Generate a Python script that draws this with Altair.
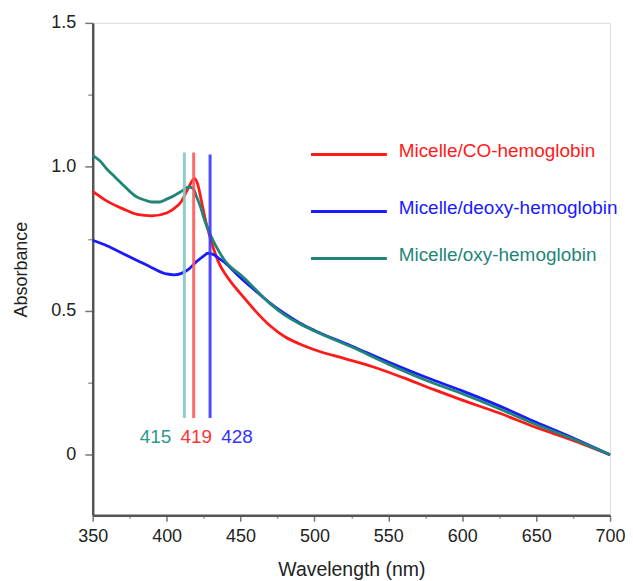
import altair as alt
import pandas as pd

# Wavelength grid (nm) and absorbance readings per series
wl_co = [350, 360, 370, 380, 390, 400, 405, 410, 415, 419, 421, 424, 427, 430, 435, 440, 445, 450,
         460, 470, 480, 490, 500, 520, 540, 560, 580, 600, 625, 650, 675, 700]
abs_co = [0.915, 0.88, 0.855, 0.835, 0.83, 0.84, 0.855, 0.88, 0.93, 0.96, 0.94, 0.87, 0.80, 0.745,
          0.67, 0.625, 0.59, 0.56, 0.50, 0.448, 0.41, 0.385, 0.365, 0.335, 0.305, 0.268, 0.228,
          0.19, 0.145, 0.095, 0.05, 0.0]

wl_deoxy = [350, 360, 370, 380, 390, 400, 405, 410, 415, 420, 425, 428, 432, 436, 440, 445, 450,
            460, 470, 480, 490, 500, 525, 550, 575, 600, 625, 650, 675, 700]
abs_deoxy = [0.745, 0.725, 0.70, 0.675, 0.65, 0.628, 0.625, 0.63, 0.645, 0.67, 0.69, 0.70, 0.695,
             0.68, 0.665, 0.64, 0.615, 0.57, 0.527, 0.49, 0.458, 0.432, 0.378, 0.322, 0.27, 0.222,
             0.17, 0.113, 0.058, 0.0]

wl_oxy = [350, 355, 360, 365, 370, 375, 380, 385, 390, 395, 400, 405, 410, 415, 418, 420, 423, 426,
          430, 435, 440, 445, 450, 460, 470, 480, 490, 500, 525, 550, 575, 600, 625, 650, 675, 700]
abs_oxy = [1.04, 1.02, 0.99, 0.965, 0.94, 0.915, 0.895, 0.885, 0.878, 0.878, 0.888, 0.90, 0.915,
           0.93, 0.925, 0.90, 0.86, 0.81, 0.76, 0.71, 0.67, 0.645, 0.625, 0.575, 0.525, 0.485,
           0.455, 0.43, 0.375, 0.315, 0.26, 0.212, 0.16, 0.105, 0.055, 0.0]

series_names = ["Micelle/CO-hemoglobin", "Micelle/deoxy-hemoglobin", "Micelle/oxy-hemoglobin"]
series_colors = ["#ff1a1a", "#1a1aff", "#1f8577"]

# Soret peak markers
peak_labels = ["415", "419", "428"]
peak_pos = [412.0, 418.3, 429.4]
peak_colors = ["#86c7be", "#ff5a5a", "#3a3aff"]
peak_text_colors = ["#2a9a8a", "#ff3333", "#3333ff"]
peak_top = [1.05, 1.05, 1.043]
peak_bottom = [0.128, 0.128, 0.128]
peak_label_x = [392.5, 420.1, 447.6]
peak_label_y = 0.062

# Legend placement (data coords)
legend_x0, legend_x1, legend_tx = 497.7, 549.0, 557.0
legend_y = [1.043, 0.845, 0.682]

x_ticks = [350, 400, 450, 500, 550, 600, 650, 700]
x_minor = [375, 425, 475, 525, 575, 625, 675]
y_ticks = [0, 0.5, 1.0, 1.5]
y_minor = [0.25, 0.75, 1.25]

rows = []
for name, wls, vals in [(series_names[0], wl_co, abs_co),
                        (series_names[1], wl_deoxy, abs_deoxy),
                        (series_names[2], wl_oxy, abs_oxy)]:
    for w, v in zip(wls, vals):
        rows.append({"series": name, "wl": w, "a": v})
df = pd.DataFrame(rows)

peaks = pd.DataFrame({"label": peak_labels, "x": peak_pos, "top": peak_top, "bot": peak_bottom,
                      "color": peak_colors, "tcolor": peak_text_colors, "lx": peak_label_x,
                      "ly": [peak_label_y] * 3})
leg = pd.DataFrame({"series": series_names, "x0": [legend_x0] * 3, "x1": [legend_x1] * 3,
                    "tx": [legend_tx] * 3, "y": legend_y, "color": series_colors})

FONT = "Liberation Sans"
xdom = [350, 700]
ydom = [-0.21, 1.5]

xscale = alt.Scale(domain=xdom, nice=False, zero=False)
yscale = alt.Scale(domain=ydom, nice=False, zero=False)

color_scale = alt.Scale(domain=series_names, range=series_colors)

# Minor-tick layer (axes independent but placed on the same sides)
minor_ticks = alt.Chart(pd.DataFrame({"v": [360]})).mark_point(opacity=0).encode(
    x=alt.X("v:Q", scale=xscale, axis=alt.Axis(values=x_minor, labels=False, title=None, orient="bottom",
                                               domain=False, grid=False, tickColor="#999",
                                               tickWidth=1.5, tickSize=3)),
    y=alt.Y("v:Q", scale=yscale, axis=alt.Axis(values=y_minor, labels=False, title=None, orient="left",
                                               domain=False, grid=False, tickColor="#999",
                                               tickWidth=1.5, tickSize=5)),
)

base_x = alt.X("wl:Q", scale=xscale, axis=alt.Axis(
    values=x_ticks, title="Wavelength (nm)", grid=False, labelFont=FONT, titleFont=FONT, orient="bottom",
    labelFontSize=18, titleFontSize=19.5, titleFontWeight="normal", labelColor="#222",
    titleColor="#222", domainColor="#555", domainWidth=2.5, tickColor="#777", tickWidth=1.5,
    tickSize=6, labelPadding=6, titlePadding=15, labelFlush=False))
base_y = alt.Y("a:Q", scale=yscale, axis=alt.Axis(
    values=y_ticks, title="Absorbance", grid=False, labelFont=FONT, titleFont=FONT, orient="left",
    labelFontSize=18, titleFontSize=18, titleFontWeight="normal", labelColor="#222",
    titleColor="#222", domainColor="#555", domainWidth=2.5, tickColor="#777", tickWidth=1.5,
    tickSize=8, labelPadding=9, titlePadding=20, labelFlush=False,
    labelExpr="datum.value == 0 ? '0' : format(datum.value, '.1f')"))

lines = alt.Chart(df).mark_line(strokeWidth=2.8, interpolate="monotone").encode(
    x=base_x, y=base_y,
    color=alt.Color("series:N", scale=color_scale, legend=None),
    order=alt.Order("wl:Q"),
    detail="series:N",
)

rules = alt.Chart(peaks).mark_rule(strokeWidth=3, opacity=0.9).encode(
    x=alt.X("x:Q", scale=xscale), y=alt.Y("bot:Q", scale=yscale), y2="top:Q",
    color=alt.Color("color:N", scale=None),
)
plabels = alt.Chart(peaks).mark_text(font=FONT, fontSize=19, baseline="middle").encode(
    x=alt.X("lx:Q", scale=xscale), y=alt.Y("ly:Q", scale=yscale),
    text="label:N", color=alt.Color("tcolor:N", scale=None),
)

leg_lines = alt.Chart(leg).mark_rule(strokeWidth=3).encode(
    x=alt.X("x0:Q", scale=xscale), x2="x1:Q", y=alt.Y("y:Q", scale=yscale),
    color=alt.Color("color:N", scale=None),
)
leg_text = alt.Chart(leg).mark_text(font=FONT, fontSize=19, align="left", baseline="middle", dy=-3).encode(
    x=alt.X("tx:Q", scale=xscale), y=alt.Y("y:Q", scale=yscale),
    text="series:N", color=alt.Color("color:N", scale=None),
)

main = alt.layer(lines, rules, plabels, leg_lines, leg_text).resolve_scale(color="independent")

chart = alt.layer(minor_ticks, main).resolve_scale(
    x="independent", y="independent"
).resolve_axis(
    x="independent", y="independent"
).properties(
    width=519, height=494,
    autosize=alt.AutoSizeParams(type="none"),
    padding={"left": 85, "top": 14, "right": 15, "bottom": 66},
).configure_view(strokeWidth=0).configure(background="white")

chart.save("out.html", embed_options={"renderer": "svg", "actions": False})
